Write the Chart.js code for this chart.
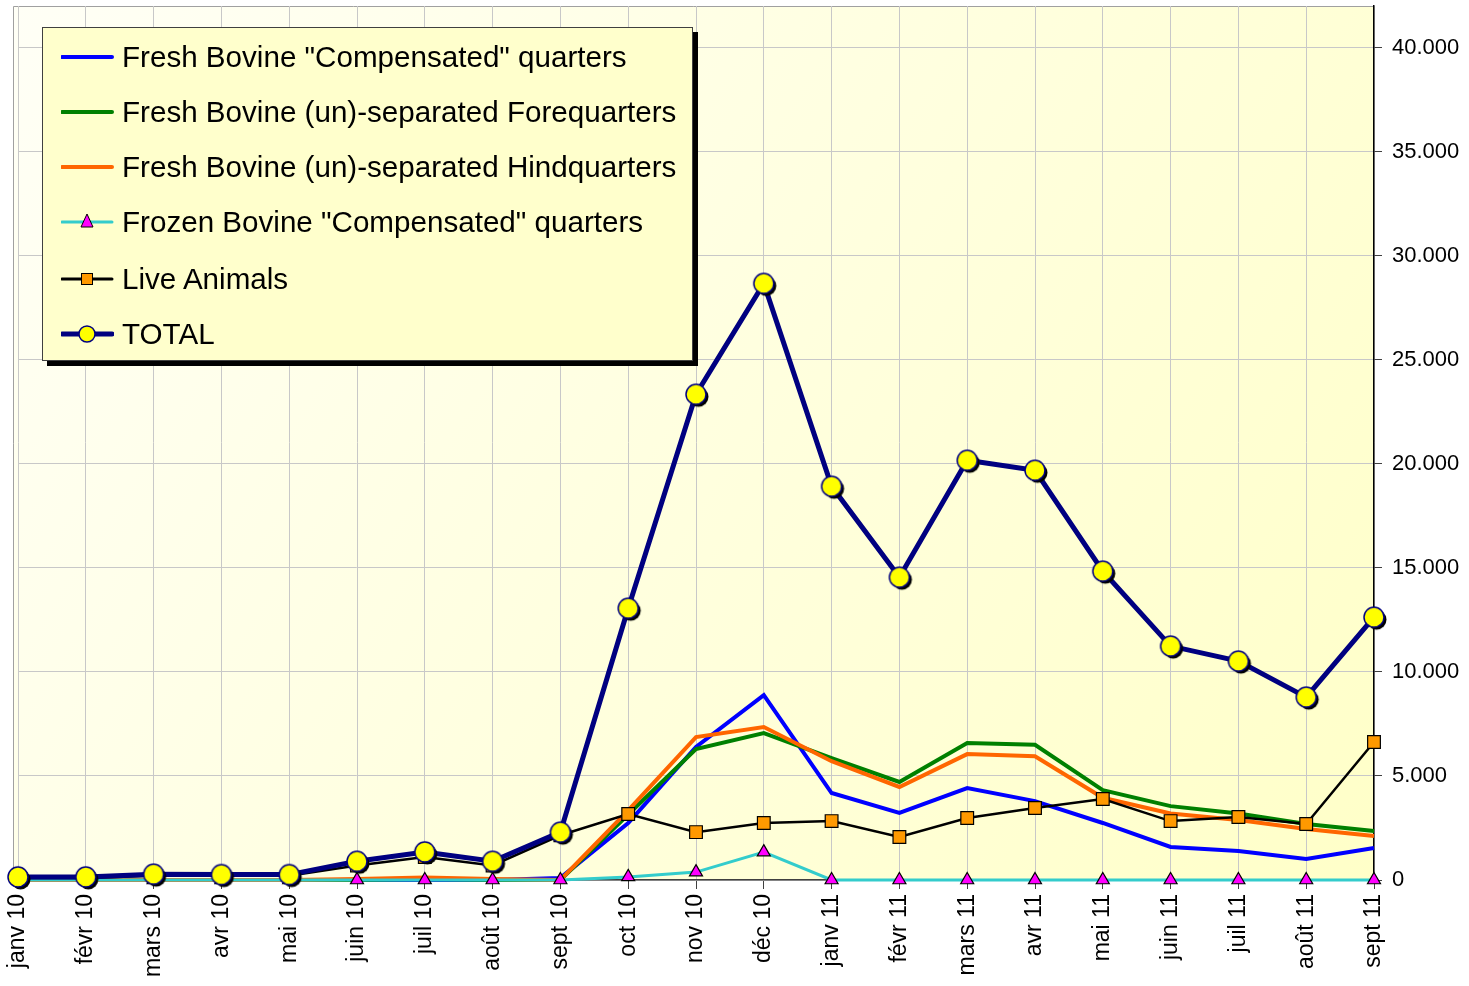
<!DOCTYPE html>
<html>
<head>
<meta charset="utf-8">
<script src="https://cdn.jsdelivr.net/npm/chart.js@4.4.0/dist/chart.umd.min.js"></script>
<style>
    html, body { margin: 0; padding: 0; background: #ffffff; }
    #wrap { position: relative; width: 1469px; height: 986px; }
    #legendBox {
        position: absolute; left: 42px; top: 27px; width: 649px; height: 332px;
        background: #FFFFCC; border: 1px solid #404040;
        box-shadow: 5px 5px 0 #000000;
        font-family: "Liberation Sans", Arial, sans-serif; font-size: 29.6px; color: #000;
    }
    .item { position: absolute; left: 18px; height: 40px; display: flex; align-items: center; white-space: nowrap; }
    .item svg { margin-right: 8px; }
</style>
</head>
<body>
<div id="wrap">
    <canvas id="bovineChart" width="1469" height="986"></canvas>
    <div id="legendBox"></div>
</div>
<script>
// Months (x-axis categories)
const months = ['janv 10', 'févr 10', 'mars 10', 'avr 10', 'mai 10', 'juin 10', 'juil 10', 'août 10', 'sept 10',
    'oct 10', 'nov 10', 'déc 10', 'janv 11', 'févr 11', 'mars 11', 'avr 11', 'mai 11', 'juin 11', 'juil 11', 'août 11', 'sept 11'];

// Series values
const freshCompensated = [0, 0, 0, 0, 0, 0, 0, 0, 100, 2740, 6390, 8880, 4180, 3220, 4420, 3790, 2740, 1590, 1390, 1010, 1540];
const freshForequarters = [0, 0, 0, 0, 0, 0, 50, 0, 0, 3150, 6290, 7060, 5860, 4710, 6580, 6500, 4320, 3550, 3200, 2690, 2350];
const freshHindquarters = [0, 0, 0, 0, 0, 50, 120, 50, 0, 3350, 6870, 7350, 5710, 4470, 6050, 5950, 3950, 3200, 2880, 2450, 2110];
const frozenCompensated = [0, 0, 0, 0, 0, 0, 0, 0, 0, 150, 380, 1340, 0, 0, 0, 0, 0, 0, 0, 0, 0];
const liveAnimals = [100, 100, 200, 200, 200, 700, 1100, 700, 2150, 3170, 2300, 2740, 2830, 2070, 2980, 3460, 3890, 2830, 3030, 2690, 6630];
const total = [150, 150, 280, 260, 260, 900, 1350, 900, 2300, 13060, 23340, 28670, 18920, 14550, 20170, 19690, 14840, 11240, 10520, 8790, 12630];

// Y-axis tick labels
const yTicks = [0, 5000, 10000, 15000, 20000, 25000, 30000, 35000, 40000];
const yMax = 42000;

const FONT = '"Liberation Sans", Arial, sans-serif';

function fmt(v) {
    return String(v).replace(/\B(?=(\d{3})+(?!\d))/g, '.');
}

// Yellow circle marker with hard black drop shadow
function makeCircleMarker() {
    const c = document.createElement('canvas');
    c.width = 30; c.height = 30;
    const g = c.getContext('2d');
    g.fillStyle = '#000000';
    g.beginPath(); g.arc(17.5, 17.5, 10, 0, Math.PI * 2); g.fill();
    g.fillStyle = '#FFFF00';
    g.strokeStyle = '#000080';
    g.lineWidth = 1.5;
    g.beginPath(); g.arc(15, 15, 10, 0, Math.PI * 2); g.fill(); g.stroke();
    return c;
}

const series = [
    { label: 'Fresh Bovine "Compensated" quarters', data: freshCompensated, color: '#0000FF', width: 4, marker: null },
    { label: 'Fresh Bovine (un)-separated Forequarters', data: freshForequarters, color: '#008000', width: 4, marker: null },
    { label: 'Fresh Bovine (un)-separated Hindquarters', data: freshHindquarters, color: '#FF6600', width: 4, marker: null },
    { label: 'Frozen Bovine "Compensated" quarters', data: frozenCompensated, color: '#33CCCC', width: 3, marker: 'triangle' },
    { label: 'Live Animals', data: liveAnimals, color: '#000000', width: 2.5, marker: 'rect' },
    { label: 'TOTAL', data: total, color: '#000080', width: 5, marker: 'circle' }
];

const circleImg = makeCircleMarker();

const datasets = series.map((s, i) => {
    const ds = {
        label: s.label,
        data: s.data,
        borderColor: s.color,
        borderWidth: s.width,
        tension: 0,
        fill: false,
        clip: false,
        order: series.length - 1 - i,
        pointRadius: 0,
        pointHoverRadius: 0
    };
    if (s.marker === 'triangle') {
        Object.assign(ds, { pointStyle: 'triangle', pointRadius: 7.5, pointBackgroundColor: '#FF00FF', pointBorderColor: '#000000', pointBorderWidth: 1.2 });
    } else if (s.marker === 'rect') {
        Object.assign(ds, { pointStyle: 'rect', pointRadius: 9, pointBackgroundColor: '#FF9900', pointBorderColor: '#000000', pointBorderWidth: 1.2 });
    } else if (s.marker === 'circle') {
        Object.assign(ds, { pointStyle: circleImg, pointRadius: 10 });
    }
    return ds;
});

// plot background gradient and frame
const plotBackground = {
    id: 'plotBackground',
    beforeDraw(chart) {
        const { ctx, chartArea } = chart;
        const left = chartArea.left - 5;
        ctx.save();
        const grad = ctx.createLinearGradient(left, chartArea.top, chartArea.right, chartArea.bottom);
        grad.addColorStop(0, '#FFFFF6');
        grad.addColorStop(1, '#FFFFC8');
        ctx.fillStyle = grad;
        ctx.fillRect(left, chartArea.top, chartArea.right - left, chartArea.bottom - chartArea.top);
        ctx.strokeStyle = '#A0A0A0';
        ctx.lineWidth = 1;
        ctx.beginPath();
        ctx.moveTo(left + 0.5, chartArea.bottom);
        ctx.lineTo(left + 0.5, chartArea.top + 0.5);
        ctx.lineTo(chartArea.right, chartArea.top + 0.5);
        ctx.stroke();
        ctx.restore();
    }
};

new Chart(document.getElementById('bovineChart'), {
    type: 'line',
    data: { labels: months, datasets: datasets },
    plugins: [plotBackground],
    options: {
        responsive: false,
        animation: false,
        events: [],
        layout: { autoPadding: false, padding: { left: 18, top: 6, right: 0, bottom: 0 } },
        plugins: {
            legend: { display: false },
            tooltip: { enabled: false }
        },
        scales: {
            x: {
                type: 'category',
                offset: false,
                grid: { color: '#C8C8C8', tickLength: 9, tickColor: '#404040' },
                border: { color: '#404040', width: 1.5 },
                ticks: {
                    color: '#000000',
                    font: { family: FONT, size: 23, lineHeight: 0.8 },
                    maxRotation: 90,
                    minRotation: 90,
                    autoSkip: false,
                    padding: 5
                },
                afterFit(s) { s.height = 106; s.paddingLeft = 0; s.paddingRight = 0; }
            },
            y: {
                position: 'right',
                min: 0,
                max: yMax,
                afterBuildTicks(s) { s.ticks = yTicks.map(v => ({ value: v })); },
                grid: { color: '#C8C8C8', tickLength: 8, tickColor: '#404040' },
                border: { color: '#000000', width: 1.5 },
                ticks: {
                    color: '#000000',
                    font: { family: FONT, size: 22, lineHeight: 0.5 },
                    padding: 10,
                    callback: v => fmt(v)
                },
                afterFit(s) { s.width = 95; s.paddingTop = 0; s.paddingBottom = 0; }
            }
        }
    }
});

// Legend (HTML overlay, inside the plot area like the original)
const legendBox = document.getElementById('legendBox');
const rowTops = [9, 64, 119, 174, 231, 286];
series.forEach((s, i) => {
    const row = document.createElement('div');
    row.className = 'item';
    row.style.top = rowTops[i] + 'px';
    let sym = `<line x1="1" y1="20" x2="51" y2="20" stroke="${s.color}" stroke-width="${Math.max(s.width, 3)}" stroke-linecap="round"/>`;
    if (s.marker === 'triangle') sym += '<polygon points="26,12 32,25 20,25" fill="#FF00FF" stroke="#000" stroke-width="1"/>';
    if (s.marker === 'rect') sym += '<rect x="20.5" y="14.5" width="11" height="11" fill="#FF9900" stroke="#000" stroke-width="1"/>';
    if (s.marker === 'circle') sym += '<circle cx="26" cy="20" r="8" fill="#FFFF00" stroke="#000080" stroke-width="1.5"/>';
    row.innerHTML = `<svg width="53" height="40">${sym}</svg><span>${s.label}</span>`;
    legendBox.appendChild(row);
});
</script>
</body>
</html>
